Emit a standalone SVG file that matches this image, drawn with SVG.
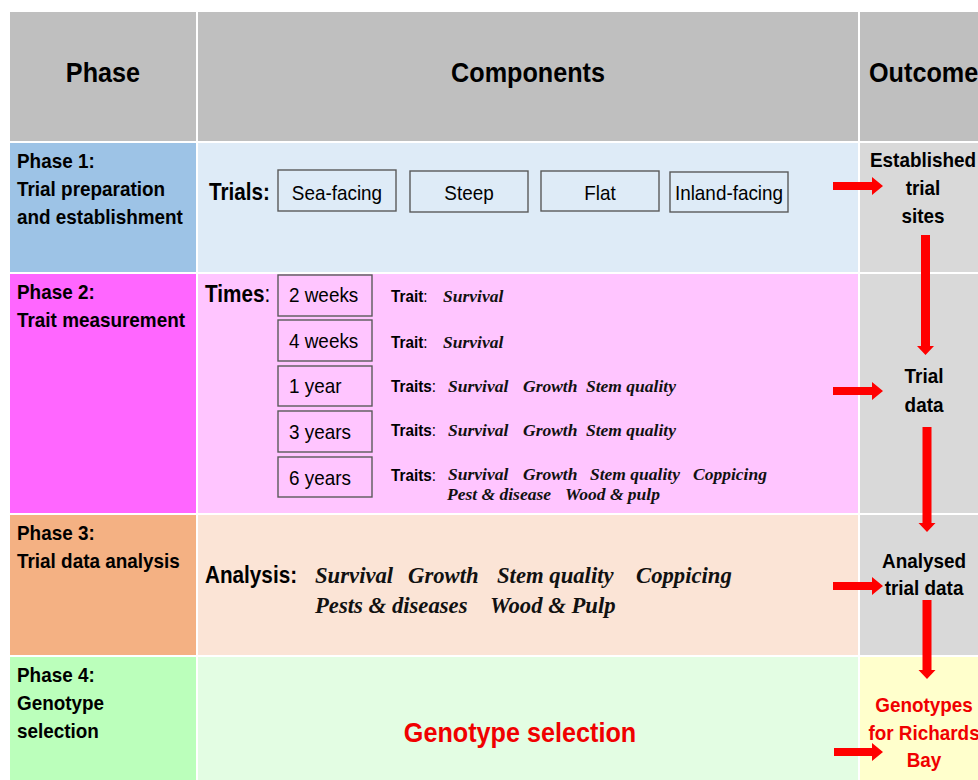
<svg xmlns="http://www.w3.org/2000/svg" width="978" height="780" viewBox="0 0 978 780">
<style>
.sans{font-family:"Liberation Sans",Arial,sans-serif;fill:#000}
.b{font-weight:bold}
.n{font-weight:normal}
.h{font-size:28px;font-weight:bold}
.ph{font-size:21px;font-weight:bold}
.lbl{font-size:23px;font-weight:bold}
.box{font-size:21px}
.tr{font-size:17px;font-weight:bold}
.oc{font-size:21px;font-weight:bold;text-anchor:middle}
.mid{text-anchor:middle}
.red{fill:#f00000}
.it{font-family:"Liberation Serif","Times New Roman",serif;font-style:italic;font-weight:bold;fill:#111}
.it1{font-size:17.5px}
.it2{font-size:22.7px}
.frame{fill:none;stroke:#5a5a5a;stroke-width:1.4}
.arrow{fill:#ff0000}
</style>
<rect x="0" y="0" width="978" height="780" fill="#ffffff"/>
<g id="grid">
<rect x="10" y="12" width="186" height="129" fill="#bfbfbf"/>
<rect x="198" y="12" width="660" height="129" fill="#bfbfbf"/>
<rect x="860" y="12" width="118" height="129" fill="#bfbfbf"/>
<rect x="10" y="143" width="186" height="129" fill="#9dc3e6"/>
<rect x="198" y="143" width="660" height="129" fill="#deebf7"/>
<rect x="860" y="143" width="118" height="129" fill="#d9d9d9"/>
<rect x="10" y="274" width="186" height="239" fill="#ff66ff"/>
<rect x="198" y="274" width="660" height="239" fill="#ffc5ff"/>
<rect x="860" y="274" width="118" height="239" fill="#d9d9d9"/>
<rect x="10" y="515" width="186" height="140" fill="#f4b183"/>
<rect x="198" y="515" width="660" height="140" fill="#fbe4d6"/>
<rect x="860" y="515" width="118" height="140" fill="#d9d9d9"/>
<rect x="10" y="657" width="186" height="123" fill="#bbffbb"/>
<rect x="198" y="657" width="660" height="123" fill="#e3fde3"/>
<rect x="860" y="657" width="118" height="123" fill="#ffffcc"/>
</g>
<g id="header">
<text class="sans h mid" transform="scale(0.9 1)" x="114.4" y="82">Phase</text>
<text class="sans h mid" transform="scale(0.9 1)" x="586.7" y="82">Components</text>
<text class="sans h" transform="scale(0.9 1)" x="965.6" y="82">Outcome</text>
</g>
<g id="phase1-label">
<text class="sans ph" transform="scale(0.9 1)" x="18.9" y="168">Phase 1:</text>
<text class="sans ph" transform="scale(0.9 1)" x="18.9" y="196">Trial preparation</text>
<text class="sans ph" transform="scale(0.9 1)" x="18.9" y="224">and establishment</text>
</g>
<g id="phase2-label">
<text class="sans ph" transform="scale(0.9 1)" x="18.9" y="299">Phase 2:</text>
<text class="sans ph" transform="scale(0.9 1)" x="18.9" y="327">Trait measurement</text>
</g>
<g id="phase3-label">
<text class="sans ph" transform="scale(0.9 1)" x="18.9" y="540">Phase 3:</text>
<text class="sans ph" transform="scale(0.9 1)" x="18.9" y="568">Trial data analysis</text>
</g>
<g id="phase4-label">
<text class="sans ph" transform="scale(0.9 1)" x="18.9" y="682">Phase 4:</text>
<text class="sans ph" transform="scale(0.9 1)" x="18.9" y="710">Genotype</text>
<text class="sans ph" transform="scale(0.9 1)" x="18.9" y="738">selection</text>
</g>
<g id="trials">
<text class="sans lbl" transform="scale(0.9 1)" x="232.2" y="200">Trials:</text>
</g>
<g id="trial-sea-facing">
<rect class="frame" x="278" y="170" width="118" height="41"/>
<text class="sans box mid" transform="scale(0.9 1)" x="374.4" y="200">Sea-facing</text>
</g>
<g id="trial-steep">
<rect class="frame" x="410" y="171" width="118" height="41"/>
<text class="sans box mid" transform="scale(0.9 1)" x="521.1" y="200">Steep</text>
</g>
<g id="trial-flat">
<rect class="frame" x="541" y="171" width="118" height="40"/>
<text class="sans box mid" transform="scale(0.9 1)" x="666.7" y="200">Flat</text>
</g>
<g id="trial-inland-facing">
<rect class="frame" x="670" y="172" width="118" height="40"/>
<text class="sans box mid" transform="scale(0.9 1)" x="810" y="200">Inland-facing</text>
</g>
<g id="times">
<text class="sans lbl" transform="scale(0.9 1)" x="227.8" y="302">Times<tspan class="n">:</tspan></text>
</g>
<g id="time-2-weeks">
<rect class="frame" x="278" y="275" width="94" height="41"/>
<text class="sans box" transform="scale(0.9 1)" x="321.1" y="302">2 weeks</text>
<text class="sans tr" transform="scale(0.9 1)" x="434.4" y="302">Trait<tspan class="n">:</tspan></text>
<text class="it it1" x="443" y="302">Survival</text>
</g>
<g id="time-4-weeks">
<rect class="frame" x="278" y="320" width="94" height="41"/>
<text class="sans box" transform="scale(0.9 1)" x="321.1" y="348">4 weeks</text>
<text class="sans tr" transform="scale(0.9 1)" x="434.4" y="348">Trait<tspan class="n">:</tspan></text>
<text class="it it1" x="443" y="348">Survival</text>
</g>
<g id="time-1-year">
<rect class="frame" x="278" y="366" width="94" height="40"/>
<text class="sans box" transform="scale(0.9 1)" x="321.1" y="393">1 year</text>
<text class="sans tr" transform="scale(0.9 1)" x="434.4" y="392">Traits<tspan class="n">:</tspan></text>
<text class="it it1" x="448" y="392">Survival</text>
<text class="it it1" x="523" y="392">Growth</text>
<text class="it it1" x="586" y="392">Stem quality</text>
</g>
<g id="time-3-years">
<rect class="frame" x="278" y="411" width="94" height="41"/>
<text class="sans box" transform="scale(0.9 1)" x="321.1" y="439">3 years</text>
<text class="sans tr" transform="scale(0.9 1)" x="434.4" y="436">Traits<tspan class="n">:</tspan></text>
<text class="it it1" x="448" y="436">Survival</text>
<text class="it it1" x="523" y="436">Growth</text>
<text class="it it1" x="586" y="436">Stem quality</text>
</g>
<g id="time-6-years">
<rect class="frame" x="278" y="457" width="94" height="40"/>
<text class="sans box" transform="scale(0.9 1)" x="321.1" y="485">6 years</text>
<text class="sans tr" transform="scale(0.9 1)" x="434.4" y="481">Traits<tspan class="n">:</tspan></text>
<text class="it it1" x="448" y="480">Survival</text>
<text class="it it1" x="523" y="480">Growth</text>
<text class="it it1" x="590" y="480">Stem quality</text>
<text class="it it1" x="693" y="480">Coppicing</text>
<text class="it it1" x="447" y="500">Pest &amp; disease</text>
<text class="it it1" x="565" y="500">Wood &amp; pulp</text>
</g>
<g id="analysis">
<text class="sans lbl" transform="scale(0.9 1)" x="227.8" y="583">Analysis:</text>
<text class="it it2" x="315" y="583">Survival</text>
<text class="it it2" x="408" y="583">Growth</text>
<text class="it it2" x="497" y="583">Stem quality</text>
<text class="it it2" x="636" y="583">Coppicing</text>
<text class="it it2" x="315" y="613">Pests &amp; diseases</text>
<text class="it it2" x="490" y="613">Wood &amp; Pulp</text>
</g>
<g id="genotype-selection">
<text class="sans h mid red" transform="scale(0.9 1)" x="577.8" y="742">Genotype selection</text>
</g>
<g id="outcome-established">
<text class="sans oc" transform="scale(0.9 1)" x="1025.6" y="167">Established</text>
<text class="sans oc" transform="scale(0.9 1)" x="1025.6" y="195">trial</text>
<text class="sans oc" transform="scale(0.9 1)" x="1025.6" y="223">sites</text>
</g>
<g id="outcome-trial-data">
<text class="sans oc" transform="scale(0.9 1)" x="1026.7" y="383">Trial</text>
<text class="sans oc" transform="scale(0.9 1)" x="1026.7" y="412">data</text>
</g>
<g id="outcome-analysed">
<text class="sans oc" transform="scale(0.9 1)" x="1026.7" y="568">Analysed</text>
<text class="sans oc" transform="scale(0.9 1)" x="1026.7" y="595">trial data</text>
</g>
<g id="outcome-genotypes">
<text class="sans oc red" transform="scale(0.9 1)" x="1026.7" y="712">Genotypes</text>
<text class="sans oc red" transform="scale(0.9 1)" x="1026.7" y="740">for Richards</text>
<text class="sans oc red" transform="scale(0.9 1)" x="1026.7" y="767">Bay</text>
</g>
<g id="connectors">
<path class="arrow" d="M833 182H872V177L883 186L872 195V190H833Z"/>
<path class="arrow" d="M833 387H872V382L883 391L872 400V395H833Z"/>
<path class="arrow" d="M833 582H872V577L883 586L872 595V590H833Z"/>
<path class="arrow" d="M834 748H872V743L883 752L872 761V756H834Z"/>
<path class="arrow" d="M921 235V346H917L925.5 355L934 346H930V235Z"/>
<path class="arrow" d="M922.5 427V523H918.5L927 532L935.5 523H931.5V427Z"/>
<path class="arrow" d="M922.5 600V670H918.5L927 679L935.5 670H931.5V600Z"/>
</g>
</svg>
